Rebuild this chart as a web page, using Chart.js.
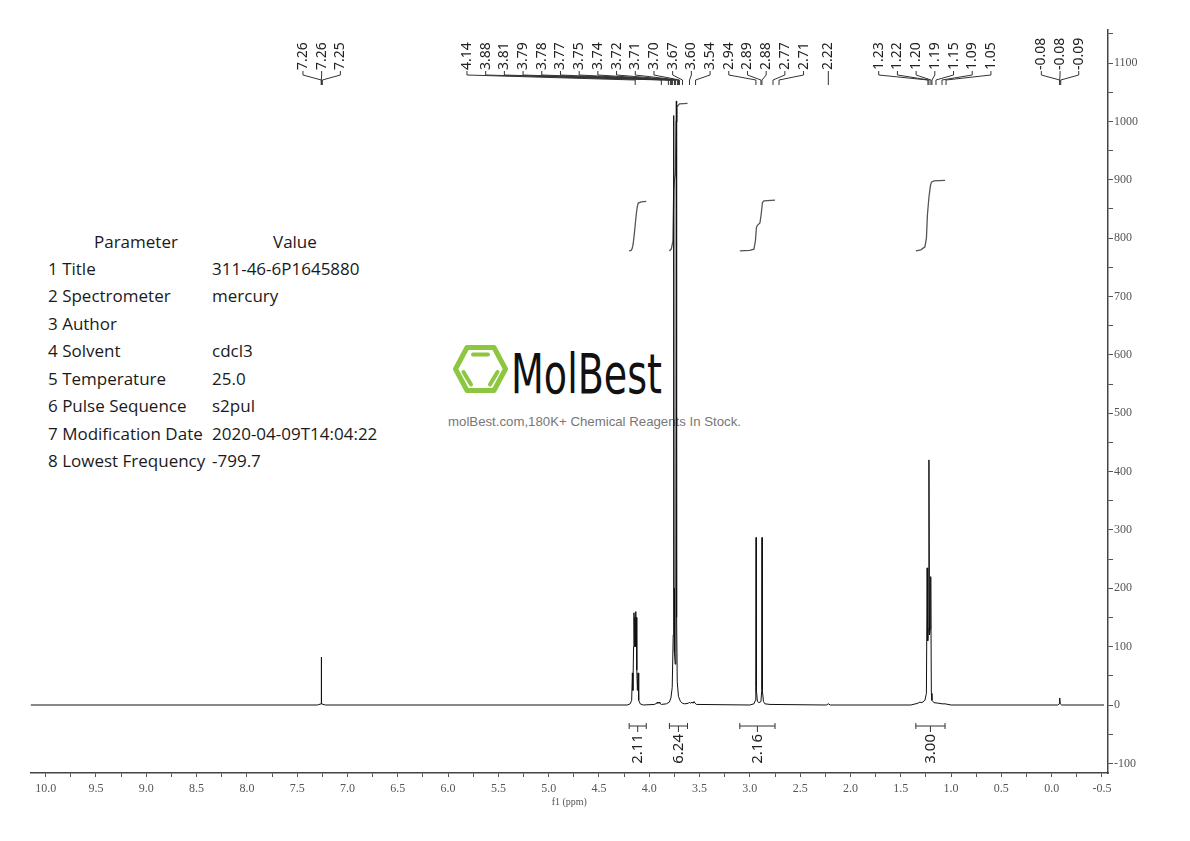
<!DOCTYPE html>
<html>
<head>
<meta charset="utf-8">
<title>1H NMR 311-46-6</title>
<script src="https://cdn.jsdelivr.net/npm/chart.js@4.4.1/dist/chart.umd.min.js"></script>
<style>
  html, body { margin: 0; padding: 0; background: #fff; }
  #wrap { position: relative; width: 1190px; height: 841px; }
  #bg, #nmr { position: absolute; left: 0; top: 0; }
  #bg { z-index: 1; }
  #nmr { z-index: 2; }
</style>
</head>
<body>
<div id="wrap">
  <svg id="bg" width="1190" height="841" xmlns="http://www.w3.org/2000/svg">
    <g transform="translate(453,345)" stroke="#8dc63f" fill="none" stroke-linecap="round">
      <polygon points="2.5,24 14,2.5 41,2.5 52.5,24 41,45.5 14,45.5" stroke-width="5" stroke-linejoin="round"/>
      <line x1="20" y1="9.5" x2="35" y2="9.5" stroke-width="4"/>
      <line x1="10.5" y1="27" x2="18" y2="39.5" stroke-width="4"/>
      <line x1="44.5" y1="27" x2="37" y2="39.5" stroke-width="4"/>
    </g>
    <text x="511" y="393" font-family="DejaVu Sans" font-size="55" fill="#111" textLength="151" lengthAdjust="spacingAndGlyphs">MolBest</text>
    <text x="448" y="426" font-family="Liberation Sans" font-size="13" fill="#777" textLength="293" lengthAdjust="spacingAndGlyphs">molBest.com,180K+ Chemical Reagents In Stock.</text>
    <g id="params" font-family="Open Sans" font-size="17" fill="#1a1a1a"></g>
  </svg>
  <canvas id="nmr" width="1190" height="841"></canvas>
</div>
<script>
// parametros del experimento
const paramNames = ['Title', 'Spectrometer', 'Author', 'Solvent', 'Temperature', 'Pulse Sequence', 'Modification Date', 'Lowest Frequency'];
const paramValues = ['311-46-6P1645880', 'mercury', '', 'cdcl3', '25.0', 's2pul', '2020-04-09T14:04:22', '-799.7'];

// espectro (ppm / intensidad)
const specPpm = [10.15, 7.30, 7.262, 7.260, 7.258, 7.22,
  4.22, 4.19, 4.175, 4.168, 4.163, 4.156, 4.152, 4.148, 4.144, 4.140, 4.136, 4.132, 4.128, 4.124, 4.118, 4.112, 4.105, 4.09, 4.06,
  3.95, 3.925, 3.92, 3.915, 3.905, 3.90, 3.895, 3.88,
  3.83, 3.80, 3.785, 3.772, 3.762, 3.757, 3.754, 3.750, 3.743, 3.736, 3.731, 3.728, 3.722, 3.71, 3.69, 3.67,
  3.65, 3.61, 3.60, 3.59, 3.575, 3.565, 3.555, 3.545, 3.53,
  3.00, 2.96, 2.945, 2.941, 2.938, 2.935, 2.925, 2.91, 2.89, 2.882, 2.879, 2.876, 2.865, 2.85, 2.80,
  2.24, 2.22, 2.20,
  1.40, 1.33, 1.31, 1.29, 1.26, 1.245, 1.238, 1.232, 1.226, 1.220, 1.214, 1.208, 1.202, 1.196, 1.19, 1.17, 1.12, 1.09, 1.06, 1.00,
  -0.06, -0.075, -0.08, -0.085, -0.10, -0.52];
const specInt = [0, 0, 2, 82, 2, 0,
  0, 2, 8, 55, 25, 100, 158, 100, 150, 110, 160, 100, 150, 60, 25, 55, 8, 2, 0,
  1, 3, 5, 3, 4, 5, 3, 1,
  2, 5, 12, 30, 120, 1010, 200, 90, 70, 180, 1035, 150, 40, 15, 6, 3,
  2, 3, 5, 3, 5, 3, 6, 3, 1,
  0, 2, 8, 30, 287, 25, 6, 4, 6, 25, 287, 25, 6, 2, 1,
  0, 2, 0,
  0, 3, 5, 4, 8, 20, 235, 110, 130, 420, 120, 130, 220, 20, 8, 4, 3, 2, 2, 0,
  0, 2, 12, 2, 0, 0];

// curvas de integral
const curve1Ppm = [4.20, 4.18, 4.17, 4.16, 4.15, 4.14, 4.13, 4.12, 4.11, 4.08, 4.03];
const curve1Val = [778, 779, 782, 790, 805, 822, 840, 853, 860, 862, 863];
const curve2Ppm = [3.80, 3.78, 3.765, 3.757, 3.75, 3.74, 3.733, 3.725, 3.70, 3.62];
const curve2Val = [778, 782, 795, 880, 900, 910, 1000, 1025, 1030, 1031];
const curve3Ppm = [3.10, 3.00, 2.96, 2.945, 2.935, 2.925, 2.90, 2.888, 2.875, 2.86, 2.75];
const curve3Val = [778, 779, 781, 795, 818, 822, 826, 840, 861, 864, 865];
const curve4Ppm = [1.35, 1.30, 1.26, 1.245, 1.235, 1.22, 1.205, 1.195, 1.17, 1.06];
const curve4Val = [778, 780, 785, 800, 840, 870, 890, 896, 898, 899];

// rangos de integracion
const intFrom = [4.20, 3.80, 3.10, 1.35];
const intTo = [4.03, 3.62, 2.75, 1.06];
const intValues = [2.11, 6.24, 2.16, 3.00];

// etiquetas de picos
const peakLabels = [7.26, 7.26, 7.25, 4.14, 3.88, 3.81, 3.79, 3.78, 3.77, 3.75, 3.74, 3.72, 3.71, 3.70, 3.67, 3.60, 3.54,
  2.94, 2.89, 2.88, 2.77, 2.71, 2.22, 1.23, 1.22, 1.20, 1.19, 1.15, 1.09, 1.05, -0.08, -0.08, -0.09];

// ejes
const xTickLabels = ['10.0', '9.5', '9.0', '8.5', '8.0', '7.5', '7.0', '6.5', '6.0', '5.5', '5.0', '4.5', '4.0', '3.5', '3.0', '2.5', '2.0', '1.5', '1.0', '0.5', '0.0', '-0.5'];
const yTickLabels = ['-100', '0', '100', '200', '300', '400', '500', '600', '700', '800', '900', '1000', '1100'];

// tabla de parametros
const g = document.getElementById('params');
const svgNS = 'http://www.w3.org/2000/svg';
function addText(x, y, s) {
    const t = document.createElementNS(svgNS, 'text');
    t.setAttribute('x', x);
    t.setAttribute('y', y);
    t.textContent = s;
    g.appendChild(t);
}
addText(94, 248, 'Parameter');
addText(273, 248, 'Value');
paramNames.forEach((name, i) => {
    const y = 275 + i * 27.43;
    addText(48, y, (i + 1) + ' ' + name);
    if (paramValues[i]) addText(212, y, paramValues[i]);
});

const toPoints = (xs, ys) => xs.map((v, i) => ({ x: v, y: ys[i] }));

// agrupa etiquetas por multiplete y las reparte de derecha a izquierda
function spreadLabels(ppms, px, gap, groupGap, splitPpm) {
    const groups = [];
    ppms.forEach((v, i) => {
        if (i === 0 || ppms[i - 1] - v > splitPpm) groups.push([]);
        groups[groups.length - 1].push(i);
    });
    const out = new Array(px.length);
    let limit = Infinity;
    for (let gi = groups.length - 1; gi >= 0; gi--) {
        const idx = groups[gi];
        const mean = idx.reduce((s, i) => s + px[i], 0) / idx.length;
        let start = mean - (idx.length - 1) * gap / 2;
        const end = start + (idx.length - 1) * gap;
        if (end > limit) start -= end - limit;
        idx.forEach((i, k) => { out[i] = start + k * gap; });
        limit = start - groupGap;
    }
    return out;
}

const nmrAnnotations = {
    id: 'nmrAnnotations',
    afterDatasetsDraw(chart) {
        const { ctx, chartArea, scales: { x, y } } = chart;
        const top = chartArea.top;
        ctx.save();
        ctx.strokeStyle = '#333';
        ctx.fillStyle = '#222';
        ctx.lineWidth = 1;

        // etiquetas de picos
        const px = peakLabels.map(v => x.getPixelForValue(v));
        const lx = spreadLabels(peakLabels, px, 18.7, 18.7, 0.15);
        ctx.font = '14px "Noto Sans"';
        peakLabels.forEach((v, i) => {
            ctx.beginPath();
            ctx.moveTo(lx[i], top + 41);
            ctx.lineTo(lx[i], top + 45);
            ctx.lineTo(px[i], top + 50);
            ctx.lineTo(px[i], top + 55);
            ctx.stroke();
            ctx.save();
            ctx.translate(lx[i], top + 40);
            ctx.rotate(-Math.PI / 2);
            ctx.textAlign = 'left';
            ctx.textBaseline = 'middle';
            ctx.fillText(v.toFixed(2), 0, 0);
            ctx.restore();
        });

        // integrales
        const yb = y.getPixelForValue(0) + 21;
        ctx.font = '15px "Noto Sans"';
        intValues.forEach((val, i) => {
            const x1 = x.getPixelForValue(intFrom[i]);
            const x2 = x.getPixelForValue(intTo[i]);
            const xm = (x1 + x2) / 2;
            ctx.beginPath();
            ctx.moveTo(x1, yb); ctx.lineTo(x2, yb);
            ctx.moveTo(x1, yb - 3); ctx.lineTo(x1, yb + 3);
            ctx.moveTo(x2, yb - 3); ctx.lineTo(x2, yb + 3);
            ctx.moveTo(xm, yb); ctx.lineTo(xm, yb + 6);
            ctx.stroke();
            ctx.save();
            ctx.translate(xm, yb + 8);
            ctx.rotate(-Math.PI / 2);
            ctx.textAlign = 'right';
            ctx.textBaseline = 'middle';
            ctx.fillText(val.toFixed(2), 0, 0);
            ctx.restore();
        });
        ctx.restore();
    }
};

const curveStyle = { borderColor: '#555', borderWidth: 1.3, pointRadius: 0, tension: 0, fill: false };

new Chart(document.getElementById('nmr').getContext('2d'), {
    type: 'line',
    data: {
        datasets: [
            { data: toPoints(specPpm, specInt), borderColor: '#111', borderWidth: 1, pointRadius: 0, tension: 0, borderJoinStyle: 'bevel', fill: false },
            Object.assign({ data: toPoints(curve1Ppm, curve1Val) }, curveStyle),
            Object.assign({ data: toPoints(curve2Ppm, curve2Val) }, curveStyle),
            Object.assign({ data: toPoints(curve3Ppm, curve3Val) }, curveStyle),
            Object.assign({ data: toPoints(curve4Ppm, curve4Val) }, curveStyle)
        ]
    },
    options: {
        responsive: false,
        animation: false,
        events: [],
        layout: { padding: { left: 30.6, top: 30, right: 0, bottom: 0 } },
        plugins: { legend: { display: false }, tooltip: { enabled: false } },
        scales: {
            x: {
                type: 'linear',
                reverse: true,
                min: -0.56,
                max: 10.15,
                afterBuildTicks(scale) {
                    const ticks = [];
                    xTickLabels.forEach(t => {
                        const v = parseFloat(t);
                        ticks.push({ value: v });
                        if (v > -0.5) ticks.push({ value: v - 0.25 });
                    });
                    scale.ticks = ticks;
                },
                afterFit(scale) { scale.height = 68; },
                ticks: {
                    autoSkip: false,
                    maxRotation: 0,
                    padding: 5,
                    color: '#555',
                    font: { family: 'Liberation Serif', size: 12 },
                    callback: v => Number.isInteger(Math.round(v * 1000) / 500) ? v.toFixed(1) : ''
                },
                grid: { display: true, drawOnChartArea: false, drawTicks: true, tickLength: 4, color: '#555' },
                border: { display: true, color: '#444', width: 1.5 },
                title: { display: true, text: 'f1 (ppm)', color: '#555', font: { family: 'Liberation Serif', size: 10 }, padding: { top: 0, bottom: 33 } }
            },
            y: {
                type: 'linear',
                position: 'right',
                min: -116.5,
                max: 1156.6,
                afterBuildTicks(scale) {
                    const ticks = [];
                    yTickLabels.forEach(t => {
                        const v = parseInt(t, 10);
                        ticks.push({ value: v });
                        ticks.push({ value: v + 50 });
                    });
                    scale.ticks = ticks;
                },
                afterFit(scale) { scale.width = 82; },
                ticks: {
                    autoSkip: false,
                    padding: 1,
                    color: '#555',
                    font: { family: 'Liberation Serif', size: 12 },
                    callback: v => (v % 100 === 0 ? String(v) : '')
                },
                grid: { display: true, drawOnChartArea: false, drawTicks: true, tickLength: 5, color: '#555' },
                border: { display: true, color: '#444', width: 1.5 }
            }
        }
    },
    plugins: [nmrAnnotations]
});
</script>
</body>
</html>
